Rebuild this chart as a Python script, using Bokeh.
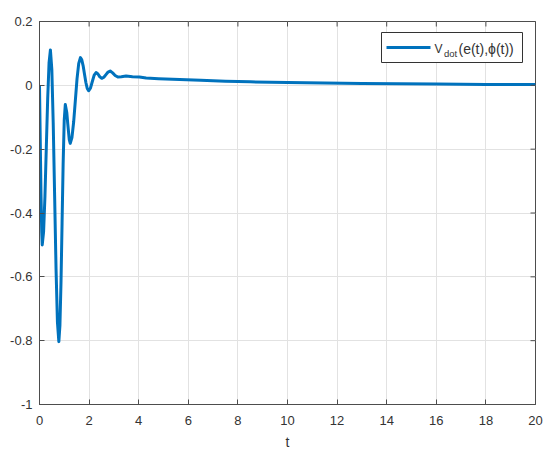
import math
from bokeh.plotting import figure
from bokeh.models import (FixedTicker, BoxAnnotation, Label, Arrow, Range1d)
from bokeh.embed import file_html
from bokeh.resources import INLINE

# ---- data ----
t = [0, 0.03, 0.06, 0.09, 0.11,
     0.165, 0.22, 0.275, 0.33, 0.385, 0.44,
     0.497, 0.553, 0.61, 0.667, 0.723, 0.78,
     0.823, 0.867, 0.91, 0.953, 0.997, 1.04,
     1.10, 1.14, 1.20, 1.24,
     1.308, 1.377, 1.445, 1.513, 1.582, 1.65,
     1.705, 1.76, 1.815, 1.87, 1.925, 1.98,
     2.055, 2.13, 2.205, 2.28,
     2.357, 2.433, 2.51,
     2.595, 2.68, 2.765, 2.85,
     2.95, 3.05, 3.16,
     3.3, 3.49, 3.75, 4.03, 4.3, 4.8, 5.65, 6.5, 7.5, 8.5, 10, 11.5, 13, 14.5, 16, 18, 20]
v_dot = [0, -0.17, -0.34, -0.46, -0.50,
         -0.459, -0.347, -0.194, -0.042, 0.070, 0.111,
         0.050, -0.118, -0.346, -0.575, -0.742, -0.803,
         -0.753, -0.617, -0.432, -0.246, -0.110, -0.060,
         -0.085, -0.121, -0.170, -0.182,
         -0.164, -0.115, -0.048, 0.020, 0.069, 0.087,
         0.080, 0.061, 0.035, 0.009, -0.010, -0.017,
         -0.009, 0.012, 0.032, 0.040,
         0.0355, 0.0265, 0.022,
         0.0254, 0.0335, 0.0416, 0.045,
         0.039, 0.031, 0.026,
         0.027, 0.029, 0.027, 0.026, 0.023, 0.021, 0.018, 0.016, 0.013, 0.011, 0.009, 0.007, 0.006, 0.005, 0.004, 0.003, 0.003]

x_min, x_max = 0, 20
y_min, y_max = -1, 0.2
x_ticks = [0, 2, 4, 6, 8, 10, 12, 14, 16, 18, 20]
y_ticks = [-1, -0.8, -0.6, -0.4, -0.2, 0, 0.2]
y_tick_labels = ["-1", "-0.8", "-0.6", "-0.4", "-0.2", "0", "0.2"]
x_label = "t"
legend_main = "V"
legend_sub = "dot"
legend_rest = "(e(t),\u03d5(t))"

FONT = "Liberation Sans"
AX = "#4d4d4d"
TXT = "#333333"
BLUE = "#0072BD"

p = figure(width=549, height=454, output_backend="svg", toolbar_location=None,
           x_range=Range1d(x_min, x_max), y_range=Range1d(y_min, y_max),
           min_border_left=39, min_border_top=21, min_border_right=14, min_border_bottom=50,
           background_fill_color="white", border_fill_color="white")
p.outline_line_color = AX
p.outline_line_width = 1

p.line(t, v_dot, line_color=BLUE, line_width=3, line_join="round")

for ax in [p.xaxis[0], p.yaxis[0]]:
    ax.axis_line_color = AX
    ax.major_tick_line_color = AX
    ax.major_tick_in = 5
    ax.major_tick_out = 0
    ax.minor_tick_line_color = None
    ax.major_label_text_font = FONT
    ax.major_label_text_font_size = "13px"
    ax.major_label_text_color = TXT

p.xaxis[0].ticker = FixedTicker(ticks=x_ticks)
p.xaxis[0].major_label_standoff = 11
p.xaxis[0].axis_label = x_label
p.xaxis[0].axis_label_text_font = FONT
p.xaxis[0].axis_label_text_font_style = "normal"
p.xaxis[0].axis_label_text_font_size = "14px"
p.xaxis[0].axis_label_text_color = TXT
p.xaxis[0].axis_label_standoff = 6

p.yaxis[0].ticker = FixedTicker(ticks=y_ticks)
p.yaxis[0].major_label_overrides = {v: s for v, s in zip(y_ticks, y_tick_labels)}
p.yaxis[0].major_label_standoff = 7

# mirrored inward ticks on top and right edges (dash markers clipped by the frame)
p.scatter(x=x_ticks, y=[y_max] * len(x_ticks), marker="dash", angle=math.pi / 2,
          size=10, line_color=AX, line_width=1)
p.scatter(x=[x_max] * len(y_ticks), y=y_ticks, marker="dash",
          size=10, line_color=AX, line_width=1)

p.xgrid.ticker = FixedTicker(ticks=x_ticks)
p.ygrid.ticker = FixedTicker(ticks=y_ticks)
p.grid.grid_line_color = "#e2e2e2"
p.grid.grid_line_width = 1

# legend (frame-relative screen units, y upward)
p.add_layout(BoxAnnotation(left=342, right=483, top=372, bottom=342,
                           left_units="screen", right_units="screen",
                           top_units="screen", bottom_units="screen",
                           fill_color="white", fill_alpha=1.0,
                           line_color="#333333", line_width=1, line_alpha=1.0))
p.add_layout(Arrow(end=None, x_start=347, y_start=357, x_end=391, y_end=357,
                   start_units="screen", end_units="screen",
                   line_color=BLUE, line_width=3))
p.add_layout(Label(x=395, y=356, x_units="screen", y_units="screen", text=legend_main,
                   text_font=FONT, text_font_size="12px", text_color=TXT,
                   text_baseline="alphabetic"))
p.add_layout(Label(x=404.5, y=351, x_units="screen", y_units="screen", text=legend_sub,
                   text_font=FONT, text_font_size="9.5px", text_color=TXT,
                   text_baseline="alphabetic"))
p.add_layout(Label(x=419, y=356, x_units="screen", y_units="screen", text=legend_rest,
                   text_font=FONT, text_font_size="14px", text_color=TXT,
                   text_baseline="alphabetic"))

open("out.html", "w").write(file_html(p, INLINE))
